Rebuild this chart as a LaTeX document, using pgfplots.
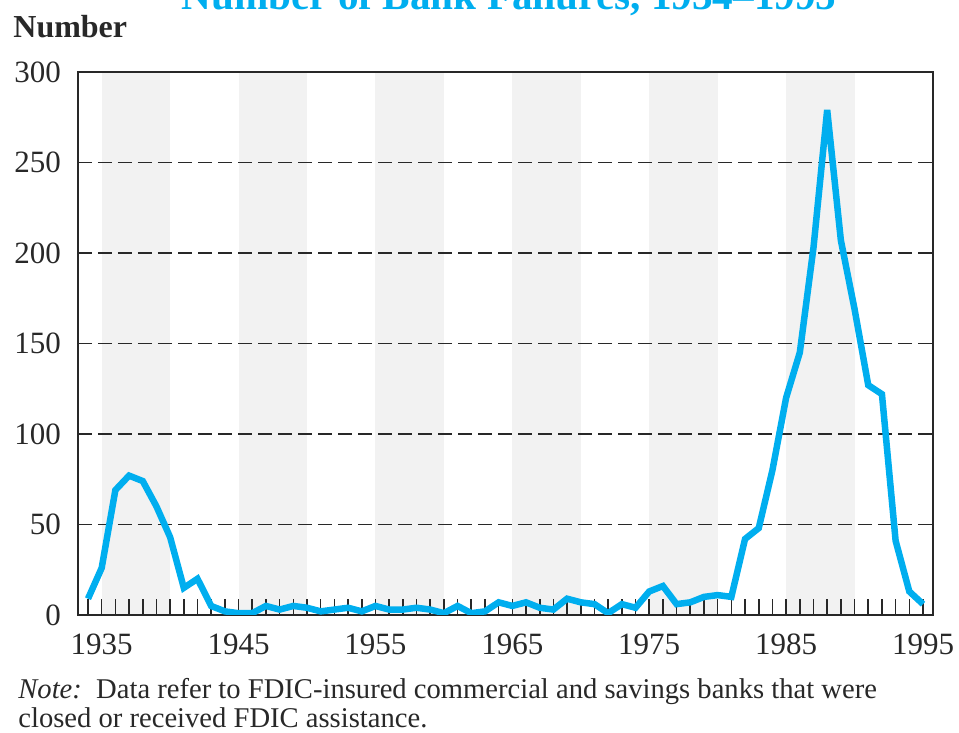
\documentclass[border=0pt]{standalone}
\usepackage{pgfplots}
\pgfplotsset{compat=1.18}
\usepackage{fontspec}
\setmainfont{Liberation Serif}
\definecolor{fdicblue}{RGB}{0,174,239}
\definecolor{bandgray}{RGB}{242,242,242}
\definecolor{axisdark}{RGB}{40,40,40}
\pgfplotstableread{
x y
1934 9
1935 26
1936 69
1937 77
1938 74
1939 60
1940 43
1941 15
1942 20
1943 5
1944 2
1945 1
1946 1
1947 5
1948 3
1949 5
1950 4
1951 2
1952 3
1953 4
1954 2
1955 5
1956 3
1957 3
1958 4
1959 3
1960 1
1961 5
1962 1
1963 2
1964 7
1965 5
1966 7
1967 4
1968 3
1969 9
1970 7
1971 6
1972 1
1973 6
1974 4
1975 13
1976 16
1977 6
1978 7
1979 10
1980 11
1981 10
1982 42
1983 48
1984 80
1985 120
1986 145
1987 203
1988 279
1989 207
1990 169
1991 127
1992 122
1993 41
1994 13
1995 6
}\failures
\begin{document}
\begin{tikzpicture}
\begin{axis}[
  set layers,
  scale only axis,
  width=427.5pt, height=271.5pt,
  xmin=1933.27, xmax=1995.73,
  ymin=0, ymax=300,
  axis line style={draw=axisdark, line width=1pt},
  xtick={1935,1945,...,1995},
  minor xtick={1934,1935,...,1995},
  xtick pos=bottom,
  tick align=inside,
  major tick length=8pt, minor tick length=8pt,
  tick style={axisdark, line width=0.8pt},
  ytick={0,50,...,300},
  ytick style={draw=none},
  ymajorgrids,
  grid style={axisdark, line width=0.9pt, dash pattern=on 7pt off 3pt},
  /pgf/number format/assume math mode=true,
  /pgf/number format/1000 sep={},
  ticklabel style={font=\fontsize{15.5}{18}\selectfont, text=axisdark},
  yticklabel style={xshift=-5pt},
  xticklabel style={yshift=-6pt},
]
\addplot[on layer=axis background, fill=bandgray, draw=none] coordinates {(1935,0)(1935,300)(1940,300)(1940,0)} -- cycle;
\addplot[on layer=axis background, fill=bandgray, draw=none] coordinates {(1945,0)(1945,300)(1950,300)(1950,0)} -- cycle;
\addplot[on layer=axis background, fill=bandgray, draw=none] coordinates {(1955,0)(1955,300)(1960,300)(1960,0)} -- cycle;
\addplot[on layer=axis background, fill=bandgray, draw=none] coordinates {(1965,0)(1965,300)(1970,300)(1970,0)} -- cycle;
\addplot[on layer=axis background, fill=bandgray, draw=none] coordinates {(1975,0)(1975,300)(1980,300)(1980,0)} -- cycle;
\addplot[on layer=axis background, fill=bandgray, draw=none] coordinates {(1985,0)(1985,300)(1990,300)(1990,0)} -- cycle;
\addplot[fdicblue, line width=3.25pt, line join=miter, miter limit=2] table[x=x, y=y] {\failures};
\end{axis}
\node[anchor=base west, font=\fontsize{16}{19}\selectfont\bfseries, text=axisdark, inner sep=0pt] at (-32.5pt,288.5pt) {Number};
\node[anchor=base, font=\fontsize{20.6}{24}\selectfont\bfseries, text=fdicblue, inner sep=0pt] at (215.5pt,302.5pt) {Number of Bank Failures, 1934–1995};
\node[anchor=base west, font=\fontsize{14.3}{17}\selectfont, text=axisdark, inner sep=0pt] at (-30pt,-42pt) {\textit{Note:}\ \ Data refer to FDIC-insured commercial and savings banks that were};
\node[anchor=base west, font=\fontsize{14.3}{17}\selectfont, text=axisdark, inner sep=0pt] at (-30pt,-56.5pt) {closed or received FDIC assistance.};
\pgfresetboundingbox
\useasboundingbox (-39pt,-59pt) rectangle (440.5pt,307.5pt);
\end{tikzpicture}
\end{document}
